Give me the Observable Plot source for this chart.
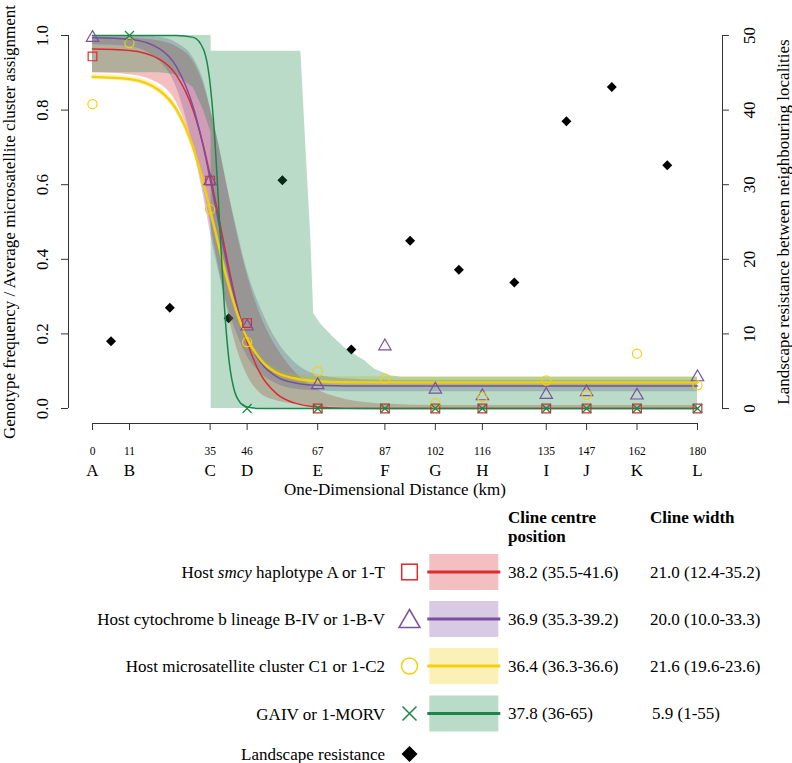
<!DOCTYPE html>
<html><head><meta charset="utf-8">
<script src="https://cdn.jsdelivr.net/npm/d3@7"></script>
<script src="https://cdn.jsdelivr.net/npm/@observablehq/plot@0.6"></script>
<style>
body{margin:0;background:#fff;}
#wrap{position:relative;width:792px;height:763px;background:#fff;font-family:'Liberation Serif',serif;}
#wrap svg{display:block;}
#wrap svg text{font-family:'Liberation Serif',serif;}
</style></head><body><div id="wrap"></div>
<script>
// ---------- data ----------
const siteKm = [0, 11, 35, 46, 67, 87, 102, 116, 135, 147, 162, 180];
const siteLetters = ["A","B","C","D","E","F","G","H","I","J","K","L"];
const yTicks = [0, 0.2, 0.4, 0.6, 0.8, 1.0];
const rTicks = [0, 10, 20, 30, 40, 50];
const rMax = 50;

const smcyKm = [0, 35, 46, 67, 87, 102, 116, 135, 147, 162, 180];
const smcyFreq = [0.944, 0.611, 0.229, 0, 0, 0, 0, 0, 0, 0, 0];
const cytbKm = [0, 35, 46, 67, 87, 102, 116, 135, 147, 162, 180];
const cytbFreq = [0.994, 0.61, 0.22, 0.063, 0.167, 0.051, 0.033, 0.037, 0.044, 0.035, 0.084];
const msatKm = [0, 11, 35, 46, 67, 87, 102, 116, 135, 147, 162, 180];
const msatFreq = [0.816, 0.98, 0.534, 0.178, 0.10, 0.08, 0.014, 0.03, 0.075, 0.037, 0.147, 0.062];
const gaivKm = [11, 46, 67, 87, 102, 116, 135, 147, 162, 180];
const gaivFreq = [1, 0, 0, 0, 0, 0, 0, 0, 0, 0];
const resistKm = [5.5, 23, 40.5, 56.5, 77, 94.5, 109, 125.5, 141, 154.5, 171];
const resistVal = [9.0, 13.5, 12.1, 30.6, 7.9, 22.5, 18.6, 16.9, 38.5, 43.1, 32.6];

// fitted cline curves
const clineKm   = [0, 11, 20, 25, 30, 33, 36, 38, 40, 43, 46, 50, 55, 60, 67, 75, 87, 180];
const smcyCline = [0.964, 0.960, 0.936, 0.893, 0.798, 0.704, 0.582, 0.492, 0.401, 0.276, 0.178, 0.092, 0.038, 0.015, 0.004, 0.001, 0, 0];
const cytbCline = [0.994, 0.990, 0.964, 0.916, 0.807, 0.701, 0.569, 0.476, 0.387, 0.273, 0.190, 0.124, 0.084, 0.069, 0.062, 0.0605, 0.06, 0.06];
const msatCline = [0.889, 0.883, 0.852, 0.801, 0.698, 0.605, 0.495, 0.420, 0.348, 0.257, 0.188, 0.131, 0.095, 0.081, 0.073, 0.0705, 0.07, 0.07];
const gaivClineKm = [0, 25, 30, 33, 35, 36, 37, 38, 39, 40, 41, 42, 44, 46, 50, 180];
const gaivCline   = [1, 1, 0.995, 0.963, 0.870, 0.772, 0.632, 0.466, 0.307, 0.184, 0.102, 0.055, 0.015, 0.004, 0, 0];

// confidence bands
const bandKm = [0, 11, 20, 25, 30, 33, 36, 38, 40, 43, 46, 50, 55, 60, 67, 75, 87, 100, 180];
const smcyLo = [0.90, 0.895, 0.87, 0.82, 0.70, 0.59, 0.45, 0.36, 0.27, 0.16, 0.09, 0.04, 0.02, 0.012, 0.006, 0.003, 0, 0, 0];
const smcyHi = [0.995, 0.993, 0.985, 0.97, 0.93, 0.87, 0.77, 0.69, 0.60, 0.47, 0.36, 0.25, 0.16, 0.10, 0.05, 0.025, 0.012, 0.008, 0.008];
const cytbLo = [0.975, 0.97, 0.93, 0.86, 0.70, 0.57, 0.43, 0.35, 0.28, 0.20, 0.14, 0.095, 0.065, 0.052, 0.047, 0.045, 0.045, 0.045, 0.045];
const cytbHi = [1.0, 0.999, 0.995, 0.98, 0.94, 0.88, 0.77, 0.69, 0.60, 0.48, 0.37, 0.27, 0.18, 0.125, 0.09, 0.08, 0.076, 0.075, 0.075];
const msatLo = [0.882, 0.876, 0.843, 0.79, 0.685, 0.592, 0.482, 0.405, 0.333, 0.245, 0.178, 0.122, 0.086, 0.072, 0.062, 0.058, 0.056, 0.056, 0.056];
const msatHi = [0.896, 0.890, 0.861, 0.812, 0.711, 0.618, 0.508, 0.435, 0.363, 0.270, 0.200, 0.142, 0.105, 0.092, 0.086, 0.085, 0.085, 0.085, 0.085];
const gaivBandKm = [0, 11, 20, 25, 30, 33, 35.3, 35.3, 62, 63.5, 65, 65.8, 68, 71.8, 76, 80.7, 84, 88.7, 92, 100, 180];
const gaivLo = [0.90, 0.90, 0.90, 0.895, 0.86, 0.80, 0.74, 0, 0, 0, 0, 0, 0, 0, 0, 0, 0, 0, 0, 0, 0];
const gaivHi = [1, 1, 1, 1, 1, 1, 1, 0.958, 0.958, 0.70, 0.45, 0.255, 0.225, 0.19, 0.155, 0.13, 0.105, 0.088, 0.084, 0.084, 0.084];

// legend
const legendLabels = [["Host ", "smcy", " haplotype A or 1-T"], ["Host cytochrome b lineage B-IV or 1-B-V"], ["Host microsatellite cluster C1 or 1-C2"], ["GAIV or 1-MORV"]];
const centreText = ["38.2 (35.5-41.6)", "36.9 (35.3-39.2)", "36.4 (36.3-36.6)", "37.8 (36-65)"];
const widthText = ["21.0 (12.4-35.2)", "20.0 (10.0-33.3)", "21.6 (19.6-23.6)", "5.9 (1-55)"];
const resistLabel = "Landscape resistance";

// ---------- styles ----------
const C = {red: "#dc2a2f", purple: "#7b4fa0", yellow: "#f3cf0e", green: "#19874a"};
const BAND_OP = 0.3;
const FONT = "'Liberation Serif', serif";

const W = 792, H = 505;
const mL = 92, mR = 95, mT = 35, mB = 97;
const kx = 180 / (W - mL - mR);   // km per pixel
const ky = 1 / (H - mT - mB);     // y-units per pixel

const band = (xs, lo, hi, color, curve) => Plot.areaY(xs, {x: d => d, y1: (d, i) => lo[i], y2: (d, i) => hi[i], fill: color, fillOpacity: BAND_OP, curve});
const curveLine = (xs, ys, color, w) => Plot.line(xs, {x: d => d, y: (d, i) => ys[i], stroke: color, strokeWidth: w, curve: "monotone-x"});
const pts = (xs, ys, symbol, color, r) => Plot.dot(xs, {x: d => d, y: (d, i) => ys[i], symbol, stroke: color, strokeWidth: 1.2, r});

const chart = Plot.plot({
  width: W, height: H,
  marginLeft: mL, marginRight: mR, marginTop: mT, marginBottom: mB,
  x: {domain: [0, 180], axis: null},
  y: {domain: [0, 1], axis: null},
  style: {fontFamily: FONT, fontSize: "17px", background: "white", overflow: "visible", color: "black"},
  marks: [
    Plot.dot(resistKm, {x: d => d, y: (d, i) => resistVal[i] / rMax, symbol: "diamond2", fill: "black", r: 4.5}),
    band(bandKm, smcyLo, smcyHi, C.red, "monotone-x"),
    band(bandKm, cytbLo, cytbHi, C.purple, "monotone-x"),
    band(bandKm, msatLo, msatHi, C.yellow, "monotone-x"),
    band(gaivBandKm, gaivLo, gaivHi, C.green, "linear"),
    curveLine(clineKm, smcyCline, C.red, 1.5),
    curveLine(clineKm, cytbCline, C.purple, 1.5),
    curveLine(clineKm, msatCline, C.yellow, 2.4),
    curveLine(gaivClineKm, gaivCline, C.green, 1.5),
    pts(smcyKm, smcyFreq, "square", C.red, 4.9),
    pts(cytbKm, cytbFreq, "triangle", C.purple, 4.6),
    pts(msatKm, msatFreq, "circle", C.yellow, 4.6),
    pts(gaivKm, gaivFreq, "times", C.green, 4.2),
    // left axis
    Plot.ruleX([0], {x: () => -24 * kx, y1: () => d3.min(yTicks), y2: () => d3.max(yTicks), stroke: "#333"}),
    Plot.ruleY(yTicks, {y: d => d, x1: () => -24 * kx, x2: () => -31 * kx, stroke: "#333"}),
    Plot.text(yTicks, {y: d => d, x: () => -50 * kx, text: d => d.toFixed(1), rotate: -90, fontSize: 17, textAnchor: "middle", lineAnchor: "middle"}),
    Plot.text(["Genotype frequency / Average microsatellite cluster assignment"], {x: () => -83 * kx, y: () => 0.5, text: d => d, rotate: -90, fontSize: 17, lineAnchor: "middle"}),
    // right axis
    Plot.ruleX([0], {x: () => 180 + 25 * kx, y1: () => d3.min(rTicks) / rMax, y2: () => d3.max(rTicks) / rMax, stroke: "#333"}),
    Plot.ruleY(rTicks, {y: d => d / rMax, x1: () => 180 + 25 * kx, x2: () => 180 + 32 * kx, stroke: "#333"}),
    Plot.text(rTicks, {y: d => d / rMax, x: () => 180 + 52 * kx, text: d => String(d), rotate: -90, fontSize: 17, lineAnchor: "middle"}),
    Plot.text(["Landscape resistance between neighbouring localities"], {x: () => 180 + 86 * kx, y: () => 0.5, text: d => d, rotate: -90, fontSize: 17, lineAnchor: "middle"}),
    // x axis
    Plot.ruleY([0], {y: () => -15 * ky, x1: () => d3.min(siteKm), x2: () => d3.max(siteKm), stroke: "#333"}),
    Plot.ruleX(siteKm, {x: d => d, y1: () => -15 * ky, y2: () => -22 * ky, stroke: "#333"}),
    Plot.text(siteKm, {x: d => d, y: () => -43 * ky, text: d => String(d), fontSize: 11.5}),
    Plot.text(siteKm, {x: d => d, y: () => -62 * ky, text: (d, i) => siteLetters[i], fontSize: 17}),
    Plot.text(["One-Dimensional Distance (km)"], {x: () => 90, y: () => -81 * ky, text: d => d, fontSize: 17})
  ]
});

const wrap = document.getElementById("wrap");
wrap.appendChild(chart);

// ---------- legend (below the chart) ----------
const LH = 763 - H;
const leg = d3.create("svg").attr("width", W).attr("height", LH)
  .attr("font-family", FONT).attr("font-size", 17)
  .style("position", "absolute").style("left", "0px").style("top", H + "px");
const oy = H;
const colors = [C.red, C.purple, C.yellow, C.green];
const rowY = [572, 619, 666, 713.5].map(v => v - oy);
const xLabel = 385, xSym = 409.5, xSw = 429.3, swW = 69, swH = 36, xCentre = 508, xWidth = 650;

leg.append("text").attr("x", xCentre).attr("y", 523 - oy).attr("font-weight", "bold").text("Cline centre");
leg.append("text").attr("x", xCentre).attr("y", 542 - oy).attr("font-weight", "bold").text("position");
leg.append("text").attr("x", xWidth).attr("y", 523 - oy).attr("font-weight", "bold").text("Cline width");

legendLabels.forEach((parts, i) => {
  const y = rowY[i];
  const t = leg.append("text").attr("x", xLabel).attr("y", y).attr("text-anchor", "end").attr("dominant-baseline", "central");
  parts.forEach((p, j) => t.append("tspan").attr("font-style", (i === 0 && j === 1) ? "italic" : null).text(p));
  leg.append("rect").attr("x", xSw).attr("y", y - swH / 2).attr("width", swW).attr("height", swH).attr("fill", colors[i]).attr("fill-opacity", BAND_OP);
  leg.append("line").attr("x1", xSw - 2).attr("x2", xSw + swW + 2).attr("y1", y).attr("y2", y).attr("stroke", colors[i]).attr("stroke-width", 2.8);
  leg.append("text").attr("x", xCentre).attr("y", y).attr("dominant-baseline", "central").text(centreText[i]);
  leg.append("text").attr("x", xWidth + (i === 3 ? 2 : 0)).attr("y", y).attr("dominant-baseline", "central").text(widthText[i]);
});
const g = leg.append("g").attr("fill", "none").attr("stroke-width", 1.5);
g.append("rect").attr("x", xSym - 7.8).attr("y", rowY[0] - 7.8).attr("width", 15.6).attr("height", 15.6).attr("stroke", C.red);
g.append("path").attr("d", `M${xSym},${rowY[1] - 9.5}L${xSym + 10.5},${rowY[1] + 8.5}L${xSym - 10.5},${rowY[1] + 8.5}Z`).attr("stroke", C.purple);
g.append("circle").attr("cx", xSym).attr("cy", rowY[2]).attr("r", 8).attr("stroke", C.yellow);
g.append("path").attr("d", `M${xSym - 7},${rowY[3] - 7}L${xSym + 7},${rowY[3] + 7}M${xSym - 7},${rowY[3] + 7}L${xSym + 7},${rowY[3] - 7}`).attr("stroke", C.green);
const ry = 754 - oy;
leg.append("path").attr("d", `M${xSym},${ry - 8}L${xSym + 8},${ry}L${xSym},${ry + 8}L${xSym - 8},${ry}Z`).attr("fill", "black");
leg.append("text").attr("x", xLabel).attr("y", ry).attr("text-anchor", "end").attr("dominant-baseline", "central").text(resistLabel);

wrap.appendChild(leg.node());
</script></body></html>
